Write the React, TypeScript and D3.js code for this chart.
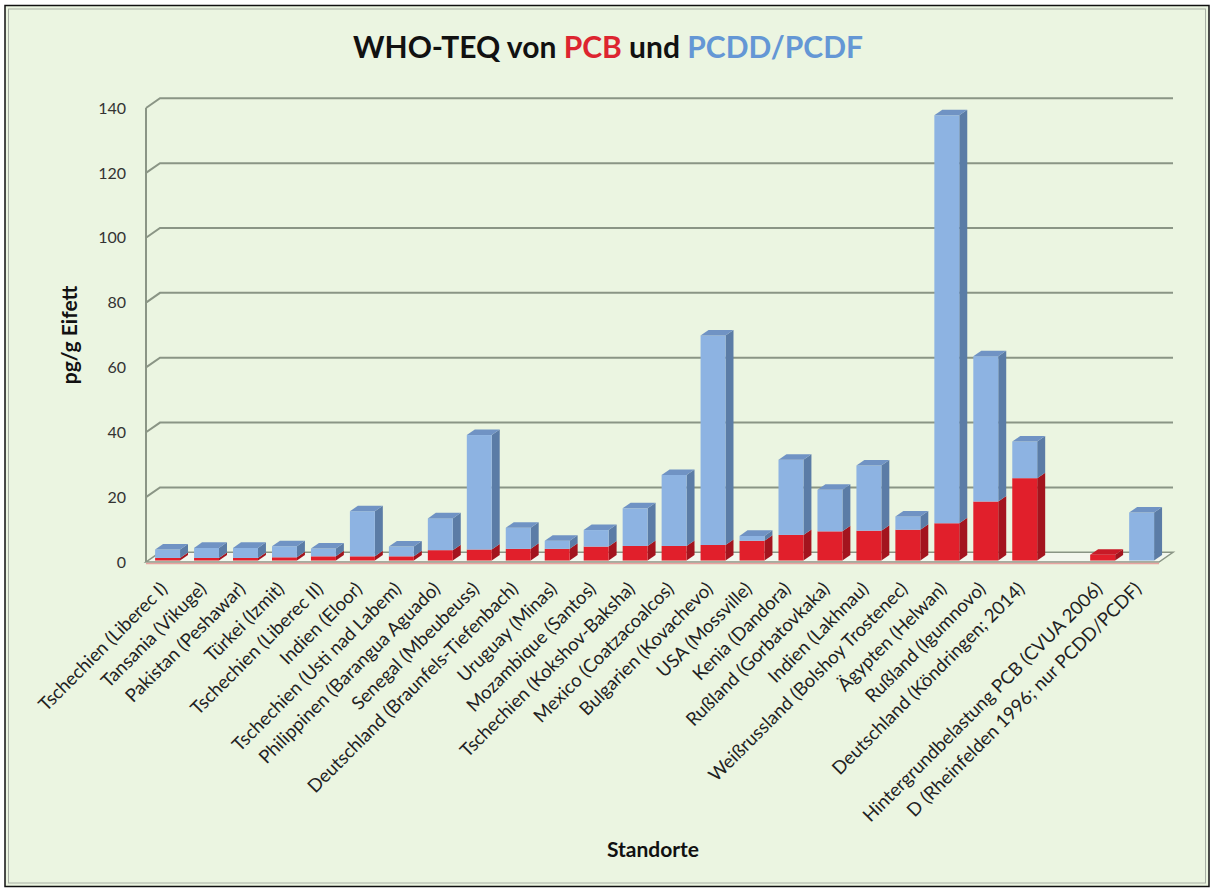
import React from 'react';
import * as d3 from 'd3';

// Standorte (category labels), one empty slot before the background values
const standorte = [
  'Tschechien (Liberec I)',
  'Tansania (Vikuge)',
  'Pakistan (Peshawar)',
  'Türkei (Izmit)',
  'Tschechien (Liberec II)',
  'Indien (Eloor)',
  'Tschechien (Usti nad Labem)',
  'Philippinen (Barangua Aguado)',
  'Senegal (Mbeubeuss)',
  'Deutschland (Braunfels-Tiefenbach)',
  'Uruguay (Minas)',
  'Mozambique (Santos)',
  'Tschechien (Kokshov-Baksha)',
  'Mexico (Coatzacoalcos)',
  'Bulgarien (Kovachevo)',
  'USA (Mossville)',
  'Kenia (Dandora)',
  'Rußland (Gorbatovkaka)',
  'Indien (Lakhnau)',
  'Weißrussland (Bolshoy Trostenec)',
  'Ägypten (Helwan)',
  'Rußland (Igumnovo)',
  'Deutschland (Köndringen; 2014)',
  '',
  'Hintergrundbelastung PCB (CVUA 2006)',
  'D (Rheinfelden 1996; nur PCDD/PCDF)',
];

// WHO-TEQ pg/g Eifett
const pcb = [0.8, 0.8, 0.8, 1.0, 1.3, 1.3, 1.3, 3.2, 3.4, 3.6, 3.6, 4.3, 4.5, 4.5, 4.8, 6.1, 7.9, 9.0, 9.2, 9.5, 11.5, 18.2, 25.4, 0, 1.8, 0];
const pcddf = [2.6, 3.1, 3.1, 3.4, 2.4, 13.9, 3.0, 9.8, 35.3, 6.5, 2.5, 5.1, 11.6, 21.9, 64.6, 1.5, 23.2, 12.8, 20.1, 4.1, 125.8, 44.8, 11.3, 0, 0, 14.8];

const yTicks = [0, 20, 40, 60, 80, 100, 120, 140];

const W = 1214;
const H = 890;
const FONT = 'Lato, "Open Sans", sans-serif';

const RED = { front: '#E11F2B', side: '#A3141E', top: '#C81A27' };
const BLUE = { front: '#8DB3E2', side: '#5B7CA6', top: '#7093C4' };

// 3D depth of the plot box
const DEPTH = { x: 14, y: -9.7 };
const BAR_START = 0.15;
const BAR_DEPTH = 0.57;

const App: React.FC = () => {
  const keys = standorte.map((_, i) => String(i));

  const x = d3.scaleBand<string>().domain(keys).range([146, 1159]).paddingInner(0.36).paddingOuter(0.18);
  const y = d3.scaleLinear().domain([0, 140]).range([562, 108]);

  const bw = x.bandwidth();
  const ox = DEPTH.x * BAR_START;
  const oy = DEPTH.y * BAR_START;
  const dx = DEPTH.x * BAR_DEPTH;
  const dy = DEPTH.y * BAR_DEPTH;

  const pts = (p: number[][]) => p.map((q) => q.join(',')).join(' ');

  const block = (k: string, v0: number, v1: number, c: typeof RED, showTop: boolean) => {
    const x0 = (x(k) as number) + ox;
    const x1 = x0 + bw;
    const yb = y(v0) + oy;
    const yt = y(v1) + oy;
    return (
      <g key={k + '-' + v0 + '-' + c.front}>
        <polygon points={pts([[x1, yb], [x1 + dx, yb + dy], [x1 + dx, yt + dy], [x1, yt]])} fill={c.side} />
        <rect x={x0} y={yt} width={bw} height={yb - yt} fill={c.front} />
        {showTop && (
          <polygon points={pts([[x0, yt], [x0 + dx, yt + dy], [x1 + dx, yt + dy], [x1, yt]])} fill={c.top} />
        )}
      </g>
    );
  };

  const [xl, xr] = x.range();
  const gridColor = '#8A9585';

  return (
    <svg width={W} height={H} style={{ position: 'absolute', left: 0, top: 0 }}>
      <rect x={0} y={0} width={W} height={H} fill="#ffffff" />
      <rect x={5} y={5.5} width={1204} height={881} fill="#EBF5E1" stroke="#111" strokeWidth={1.5} />
      <rect x={8.5} y={9} width={1197} height={874} fill="none" stroke="#A8AFA4" strokeWidth={1} />

      {/* title */}
      <text x={608} y={58} textAnchor="middle" fontFamily={FONT} fontWeight={700} fontSize={30} fill="#111">
        WHO-TEQ von <tspan fill="#DD2530">PCB</tspan> und <tspan fill="#6497D5">PCDD/PCDF</tspan>
      </text>

      {/* floor */}
      <polygon
        points={pts([[xl, y(0)], [xr, y(0)], [xr + DEPTH.x, y(0) + DEPTH.y], [xl + DEPTH.x, y(0) + DEPTH.y]])}
        fill="#F3F7EE"
        stroke={gridColor}
        strokeWidth={1.5}
      />
      <line x1={xl} x2={xr} y1={y(0) + 1.5} y2={y(0) + 1.5} stroke="#E7A3A0" strokeWidth={1.5} />

      {/* walls + gridlines */}
      <line x1={xl} x2={xl} y1={y(0)} y2={y(140)} stroke={gridColor} strokeWidth={2} />
      {yTicks.map((t) => (
        <g key={t}>
          {t > 0 && (
            <polyline
              points={pts([[xl, y(t)], [xl + DEPTH.x, y(t) + DEPTH.y], [xr + DEPTH.x, y(t) + DEPTH.y]])}
              fill="none"
              stroke={gridColor}
              strokeWidth={2}
            />
          )}
          <text x={126} y={y(t)} dy="0.36em" textAnchor="end" fontFamily={FONT} fontSize={16} fill="#333">
            {t}
          </text>
        </g>
      ))}

      {/* stacked 3D columns */}
      {keys.map((k, i) => {
        const total = pcb[i] + pcddf[i];
        if (total === 0) return null;
        return (
          <g key={k}>
            {pcb[i] > 0 && block(k, 0, pcb[i], RED, pcddf[i] === 0)}
            {pcddf[i] > 0 && block(k, pcb[i], total, BLUE, true)}
          </g>
        );
      })}

      {/* category labels */}
      {keys.map((k, i) => {
        const cx = (x(k) as number) + bw / 2 + 3;
        const cy = 590;
        return (
          <text
            key={k}
            transform={`translate(${cx},${cy}) rotate(-45)`}
            textAnchor="end"
            fontFamily={FONT}
            fontSize={18.5}
            fill="#222"
          >
            {standorte[i]}
          </text>
        );
      })}

      {/* axis titles */}
      <text
        transform="translate(77,335) rotate(-90)"
        textAnchor="middle"
        fontFamily={FONT}
        fontWeight={700}
        fontSize={21}
        fill="#111"
      >
        pg/g Eifett
      </text>
      <text x={653} y={857} textAnchor="middle" fontFamily={FONT} fontWeight={700} fontSize={21} fill="#111">
        Standorte
      </text>
    </svg>
  );
};

export default App;
